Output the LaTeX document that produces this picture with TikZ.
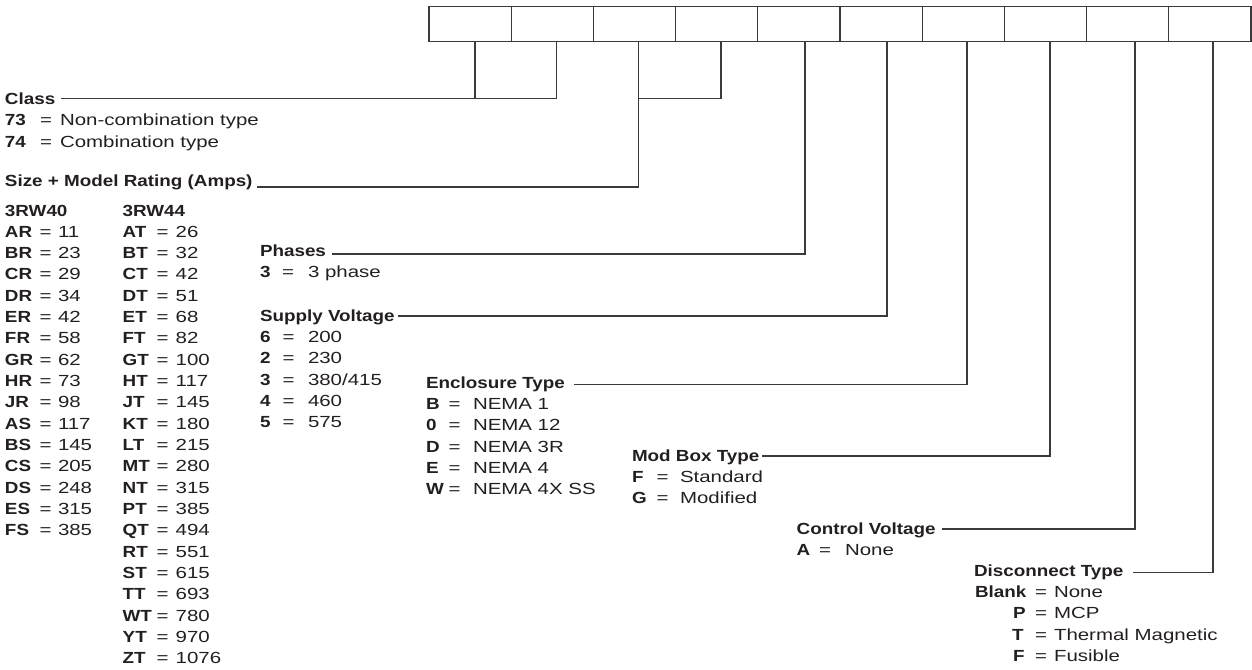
\documentclass[tikz,border=0pt]{standalone}
\usepackage{fontspec}
\setmainfont{Liberation Sans}[FakeStretch=1.27]
\newfontfamily\bdfont{Liberation Sans}[FakeStretch=1.17]
\newcommand{\bd}[1]{{\bdfont\bfseries #1}}
\definecolor{ink}{HTML}{231F20}
\definecolor{rule}{HTML}{3A3A3A}
\begin{document}
\begin{tikzpicture}[x=1pt,y=-1pt,
  font=\fontsize{16.1pt}{21pt}\selectfont,
  txt/.style={anchor=base west, inner sep=0pt, outer sep=0pt, text=ink},
  cell/.style={draw=rule, line width=1.3pt, inner sep=0pt, outer sep=0pt,
    minimum width=82.2pt, minimum height=34.6pt, anchor=north west},
  lowbox/.style={draw=rule, line width=1.3pt, inner sep=0pt, outer sep=0pt,
    minimum width=81.5pt, minimum height=57.4pt, anchor=north west},
  conn/.style={draw=rule, line width=1.3pt}]
\useasboundingbox (0,0) rectangle (1252,669);
% top row of code boxes
\foreach \i in {1,...,10}
  \node[cell] (b\i) at ({429+82.2*(\i-1)},6.7) {};
% lower boxes
\node[lowbox] (lb1) at (475,41.3) {};
\node[lowbox, minimum width=82.3pt] (lb2) at (638.7,41.3) {};
% corner coordinates of the connectors
\coordinate (ksize) at (638.7,187);
\coordinate (kph) at (805,254);
\coordinate (ksv) at (887,316);
\coordinate (ken) at (967,384.5);
\coordinate (kmb) at (1050,456);
\coordinate (kcv) at (1135,529);
\coordinate (kdt) at (1213,572.7);

% ---------- Class
\node[txt] (hclass) at (5,104) {\bd{Class}};
\node[txt] (c73) at (5,125.7) {\bd{73}};
\node[txt] (c73e) at (40,125.7) {=};
\node[txt] (c73v) at (60,125.7) {Non-combination type};
\node[txt] (c74) at (5,147) {\bd{74}};
\node[txt] (c74e) at (40,147) {=};
\node[txt] (c74v) at (60,147) {Combination type};
\draw[conn] ([xshift=6pt]hclass.east |- lb1.south) -- (lb1.south west);

% ---------- Size + Model Rating
\node[txt] (hsize) at (5,186) {\bd{Size + Model Rating (Amps)}};
\draw[conn] ([xshift=4pt]hsize.east |- ksize) -- (ksize) -- (lb2.south west);
\node[txt] (s40) at (5,216) {\bd{3RW40}};
\node[txt] (s44) at (122.7,216) {\bd{3RW44}};
\foreach \c/\v [count=\k] in {AR/11,BR/23,CR/29,DR/34,ER/42,FR/58,GR/62,HR/73,JR/98,AS/117,BS/145,CS/205,DS/248,ES/315,FS/385}{
  \node[txt] (sa\k) at (5,{216+21.33*\k}) {\bd{\c}};
  \node[txt] (sae\k) at (39.5,{216+21.33*\k}) {=};
  \node[txt] (sav\k) at (58,{216+21.33*\k}) {\v};
}
\foreach \c/\v [count=\k] in {AT/26,BT/32,CT/42,DT/51,ET/68,FT/82,GT/100,HT/117,JT/145,KT/180,LT/215,MT/280,NT/315,PT/385,QT/494,RT/551,ST/615,TT/693,WT/780,YT/970,ZT/1076}{
  \node[txt] (sb\k) at (122.7,{216+21.33*\k}) {\bd{\c}};
  \node[txt] (sbe\k) at (156.5,{216+21.33*\k}) {=};
  \node[txt] (sbv\k) at (175.7,{216+21.33*\k}) {\v};
}

% ---------- Phases
\node[txt] (hph) at (260,256.7) {\bd{Phases}};
\draw[conn] ([xshift=6pt]hph.east |- kph) -- (kph) -- (kph |- b5.south);
\node[txt] (p3) at (260,277.3) {\bd{3}};
\node[txt] (p3e) at (282,277.3) {=};
\node[txt] (p3v) at (308,277.3) {3 phase};

% ---------- Supply Voltage
\node[txt] (hsv) at (260,321) {\bd{Supply Voltage}};
\draw[conn] ([xshift=3pt]hsv.east |- ksv) -- (ksv) -- (ksv |- b6.south);
\node[txt] (v6) at (260,342.3) {\bd{6}};
\node[txt] (v6e) at (282.5,342.3) {=};
\node[txt] (v6v) at (308,342.3) {200};
\node[txt] (v2) at (260,363.7) {\bd{2}};
\node[txt] (v2e) at (282.5,363.7) {=};
\node[txt] (v2v) at (308,363.7) {230};
\node[txt] (v3) at (260,385) {\bd{3}};
\node[txt] (v3e) at (282.5,385) {=};
\node[txt] (v3v) at (308,385) {380/415};
\node[txt] (v4) at (260,406.3) {\bd{4}};
\node[txt] (v4e) at (282.5,406.3) {=};
\node[txt] (v4v) at (308,406.3) {460};
\node[txt] (v5) at (260,427.7) {\bd{5}};
\node[txt] (v5e) at (282.5,427.7) {=};
\node[txt] (v5v) at (308,427.7) {575};

% ---------- Enclosure Type
\node[txt] (hen) at (426,388.3) {\bd{Enclosure Type}};
\draw[conn] ([xshift=9pt]hen.east |- ken) -- (ken) -- (ken |- b7.south);
\foreach \c/\v [count=\k] in {B/NEMA 1,0/NEMA 12,D/NEMA 3R,E/NEMA 4,W/NEMA 4X SS}{
  \node[txt] (e\k) at (426,{388.3+21.33*\k}) {\bd{\c}};
  \node[txt] (ee\k) at (448.5,{388.3+21.33*\k}) {=};
  \node[txt] (ev\k) at (473,{388.3+21.33*\k}) {\v};
}

% ---------- Mod Box Type
\node[txt] (hmb) at (632,461) {\bd{Mod Box Type}};
\draw[conn] ([xshift=3pt]hmb.east |- kmb) -- (kmb) -- (kmb |- b8.south);
\node[txt] (mf) at (632,482.3) {\bd{F}};
\node[txt] (mfe) at (656.5,482.3) {=};
\node[txt] (mfv) at (680,482.3) {Standard};
\node[txt] (mg) at (632,503.7) {\bd{G}};
\node[txt] (mge) at (656.5,503.7) {=};
\node[txt] (mgv) at (680,503.7) {Modified};

% ---------- Control Voltage
\node[txt] (hcv) at (796.7,534) {\bd{Control Voltage}};
\draw[conn] ([xshift=6pt]hcv.east |- kcv) -- (kcv) -- (kcv |- b9.south);
\node[txt] (ca) at (796.7,555.3) {\bd{A}};
\node[txt] (cae) at (819,555.3) {=};
\node[txt] (cav) at (845,555.3) {None};

% ---------- Disconnect Type
\node[txt] (hdt) at (974,576) {\bd{Disconnect Type}};
\draw[conn] ([xshift=10pt]hdt.east |- kdt) -- (kdt) -- (kdt |- b10.south);
\node[txt] (dbl) at (975,597.3) {\bd{Blank}};
\node[txt] (dble) at (1035,597.3) {=};
\node[txt] (dblv) at (1054,597.3) {None};
\node[txt] (dp) at (1013,618.7) {\bd{P}};
\node[txt] (dpe) at (1035,618.7) {=};
\node[txt] (dpv) at (1054,618.7) {MCP};
\node[txt] (dtt) at (1012,640) {\bd{T}};
\node[txt] (dtte) at (1035,640) {=};
\node[txt] (dttv) at (1054,640) {Thermal Magnetic};
\node[txt] (df) at (1013,661.3) {\bd{F}};
\node[txt] (dfe) at (1035,661.3) {=};
\node[txt] (dfv) at (1054,661.3) {Fusible};
\end{tikzpicture}
\end{document}
